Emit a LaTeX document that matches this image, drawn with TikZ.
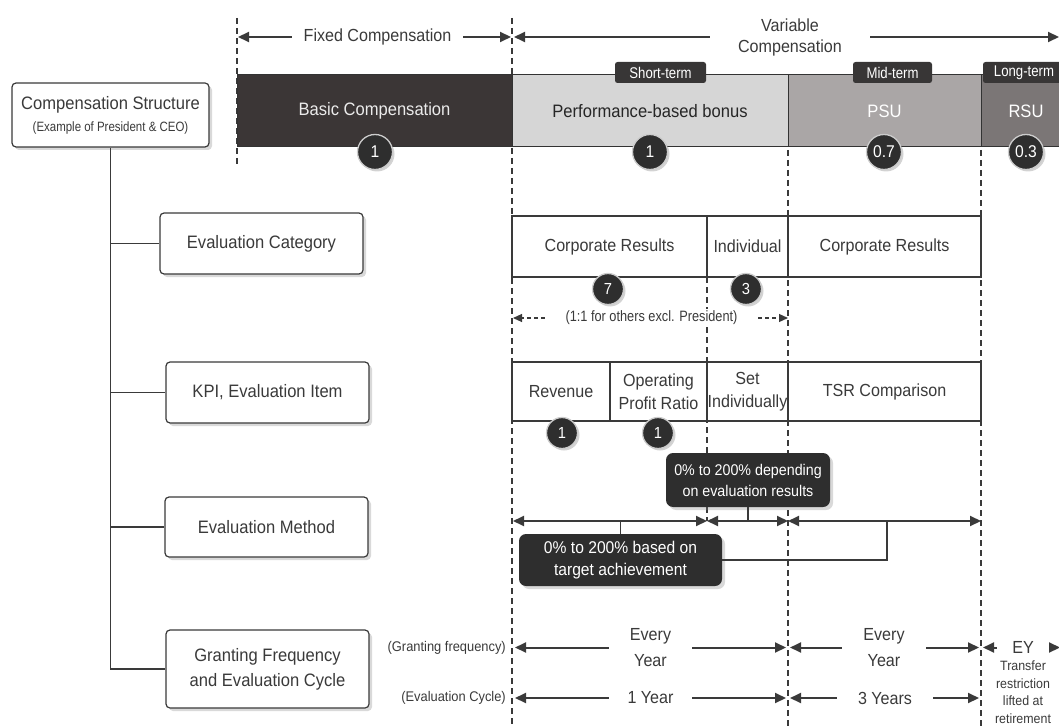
\documentclass[tikz,border=0pt]{standalone}
\usepackage{fontspec}
\setmainfont{Liberation Sans}[FakeStretch=0.92]
\newfontfamily\condf{Liberation Sans}[FakeStretch=0.85]
\usetikzlibrary{arrows.meta,shadows,calc}
\definecolor{ink}{HTML}{3A3A3A}
\definecolor{basicc}{HTML}{3B3636}
\definecolor{perfc}{HTML}{D6D6D6}
\definecolor{psuc}{HTML}{AAA6A6}
\definecolor{rsuc}{HTML}{7B7676}
\definecolor{tagc}{HTML}{383636}
\definecolor{badgec}{HTML}{2E2E2E}
\newcommand\myfs[2]{\fontsize{#1}{#2}\selectfont}
\begin{document}
\begin{tikzpicture}[x=1pt,y=-1pt,
  every node/.style={text=ink},
  vdash/.style={draw=ink, line width=1.4pt, dash pattern=on 6pt off 4pt},
  bar/.style={draw=black!80, line width=1pt, anchor=north west, inner sep=0pt, outer sep=0pt, minimum height=72pt, font=\myfs{18}{22}},
  tag/.style={fill=tagc, rounded corners=2.5pt, text=white, inner sep=0pt, minimum height=21pt, font=\condf\myfs{15.5}{18}},
  badge/.style={circle, fill=badgec, draw=white!80!black, line width=1.3pt, text=white, minimum size=31pt, inner sep=0pt, font=\myfs{16}{18}, drop shadow={opacity=0.35, shadow xshift=2pt, shadow yshift=-2pt}},
  bigbadge/.style={badge, minimum size=35pt, font=\myfs{17}{18}},
  lbox/.style={draw=ink, line width=1.2pt, fill=white, rounded corners=4pt, align=center, inner sep=0pt, font=\myfs{18}{25}, drop shadow={opacity=0.3, shadow xshift=3pt, shadow yshift=-3pt}},
  cell/.style={draw=ink, line width=1.2pt, fill=white, anchor=north west, inner sep=0pt, outer sep=0pt, align=center, font=\myfs{17.5}{23}},
  callout/.style={fill=badgec, rounded corners=7pt, text=white, align=center, inner sep=0pt, drop shadow={opacity=0.3, shadow xshift=3pt, shadow yshift=-3pt}},
  tipa/.style={line width=2pt, draw=ink, -{Triangle[length=11pt,width=10pt]}},
  dbl/.style={line width=2pt, draw=ink, {Triangle[length=11pt,width=10pt]}-{Triangle[length=11pt,width=10pt]}},
  dimtxt/.style={inner sep=0pt, align=center, font=\myfs{17.5}{26}},
  tree/.style={draw=ink, line width=1.3pt}
]
\useasboundingbox (0,0) rectangle (1059,727);
\clip (0,0) rectangle (1059,727);

% dashed guide lines
\coordinate (a1) at (237,18);  \coordinate (a2) at (237,165);
\coordinate (b1) at (512,18);  \coordinate (b2) at (512,727);
\coordinate (c1) at (788,150); \coordinate (c2) at (788,727);
\coordinate (e1) at (981,150); \coordinate (e2) at (981,727);
\coordinate (f1) at (707,277); \coordinate (f2) at (707,521);
\draw[vdash] (a1) -- (a2);
\draw[vdash] (b1) -- (b2);
\draw[vdash] (c1) -- (c2);
\draw[vdash] (e1) -- (e2);
\draw[vdash] (f1) -- (f2);

% top dimension arrows
\node[dimtxt, minimum width=171pt, font=\myfs{17.5}{22}] (fixed) at (377.5,37) {Fixed Compensation};
\coordinate (fxl) at (238,37); \coordinate (fxr) at (511,37);
\draw[tipa] (fixed) -- (fxl);
\draw[tipa] (fixed) -- (fxr);
\node[dimtxt, minimum width=160pt, font=\myfs{17.5}{21}] (var) at (790,37) {Variable\\Compensation};
\coordinate (vl) at (514,37); \coordinate (vr) at (1059,37);
\draw[tipa] (var) -- (vl);
\draw[tipa] (var) -- (vr);

% bars
\node[bar, fill=basicc, minimum width=275pt, text=white!92!black] (basic) at (237,75) {Basic Compensation};
\node[bar, fill=perfc, minimum width=276pt, text=black!85] (perf) at (512,75) {Performance-based bonus};
\node[bar, fill=psuc, minimum width=193pt, text=white] (psu) at (788,75) {PSU};
\node[bar, fill=rsuc, minimum width=90pt, text=white] (rsu) at (981,75) {RSU};

% tags
\node[tag, minimum width=91pt] (st) at (660.5,72.5) {Short-term};
\node[tag, minimum width=79pt] (mt) at (892.5,72.5) {Mid-term};
\node[tag, minimum width=82pt] (lt) at (1024,72.5) {Long-term};

% left tree
\node[lbox, minimum width=197pt, minimum height=64pt] (cs) at (110.5,115) {Compensation Structure\\[-3pt]{\condf\myfs{13.5}{16}(Example of President \& CEO)}};
\node[lbox, minimum width=203pt, minimum height=61pt] (ec) at (261.5,243.5) {Evaluation Category};
\node[lbox, minimum width=203pt, minimum height=61pt] (kpi) at (267.5,392.5) {KPI, Evaluation Item};
\node[lbox, minimum width=203pt, minimum height=60pt] (em) at (266.5,527) {Evaluation Method};
\node[lbox, minimum width=203pt, minimum height=78pt] (gf) at (267.5,669) {Granting Frequency\\and Evaluation Cycle};
\draw[tree] (cs.south) -- (cs.south |- gf.west) -- (gf.west);
\draw[tree] (cs.south |- ec.west) -- (ec.west);
\draw[tree] (cs.south |- kpi.west) -- (kpi.west);
\draw[tree] (cs.south |- em.west) -- (em.west);

% evaluation category row
\node[cell, minimum width=195pt, minimum height=61pt] (cr1) at (512,216) {Corporate Results};
\node[cell, minimum width=81pt, minimum height=61pt] (ind) at (707,216) {Individual};
\node[cell, minimum width=193pt, minimum height=61pt] (cr2) at (788,216) {Corporate Results};

% dashed note
\node[inner sep=0pt, fill=white, minimum width=213pt, minimum height=18pt, font=\condf\myfs{15}{18}] (note) at (651.5,318) {(1:1 for others excl. President)};
\coordinate (nl) at (513,318); \coordinate (nr) at (788,318);
\draw[line width=1.2pt, draw=ink, dash pattern=on 4pt off 3pt, -{Triangle[length=9pt,width=8pt]}] (note) -- (nl);
\draw[line width=1.2pt, draw=ink, dash pattern=on 4pt off 3pt, -{Triangle[length=9pt,width=8pt]}] (note) -- (nr);

% KPI row
\node[cell, minimum width=98pt, minimum height=59pt] (rev) at (512,362) {Revenue};
\node[cell, minimum width=97pt, minimum height=59pt] (opr) at (610,362) {Operating\\Profit Ratio};
\node[cell, minimum width=81pt, minimum height=59pt] (seti) at (707,362) {Set\\Individually};
\node[cell, minimum width=193pt, minimum height=59pt] (tsr) at (788,362) {TSR Comparison};

% evaluation method
\coordinate (m1) at (513,521); \coordinate (m2) at (707,521);
\coordinate (m3) at (788,521); \coordinate (m4) at (981,521);
\draw[dbl] (m1) -- (m2);
\draw[dbl] (m2) -- (m3);
\draw[dbl] (m3) -- (m4);
\node[callout, minimum width=164pt, minimum height=54pt, font=\myfs{15.5}{21}] (cb1) at (748,480) {0\% to 200\% depending\\on evaluation results};
\node[callout, minimum width=203pt, minimum height=52pt, font=\myfs{17}{22}] (cb2) at (620.5,560) {0\% to 200\% based on\\target achievement};
\coordinate (jn) at (887,521);
\draw[tree] (cb1.south) -- (cb1.south |- m2);
\draw[tree] (cb2.north) -- (cb2.north |- m1);
\draw[tree] (cb2.east) -| (jn);

% granting frequency / evaluation cycle
\node[inner sep=0pt, anchor=east, font=\myfs{14}{17}] (gfl) at (506,648) {(Granting frequency)};
\node[inner sep=0pt, anchor=east, font=\myfs{14}{17}] (ecl) at (506,698) {(Evaluation Cycle)};

\node[dimtxt, minimum width=83pt] (ey1) at (650.5,647.5) {Every\\Year};
\coordinate (g1l) at (515,647.5); \coordinate (g1r) at (786,647.5);
\draw[tipa] (ey1) -- (g1l); \draw[tipa] (ey1) -- (g1r);
\node[dimtxt, minimum width=84pt] (ey2) at (884,647.5) {Every\\Year};
\coordinate (g2l) at (790,647.5); \coordinate (g2r) at (979,647.5);
\draw[tipa] (ey2) -- (g2l); \draw[tipa] (ey2) -- (g2r);
\node[dimtxt, minimum width=52pt] (ey3) at (1023,647.5) {EY};
\coordinate (g3l) at (983,647.5); \coordinate (g3r) at (1060,647.5);
\draw[tipa] (ey3) -- (g3l); \draw[tipa] (ey3) -- (g3r);
\node[inner sep=0pt, align=center, anchor=north, font=\myfs{13.5}{17.5}] (tr) at (1023,661) {Transfer\\restriction\\lifted at\\retirement};

\node[dimtxt, minimum width=83pt] (oy) at (650.5,698) {1 Year};
\coordinate (h1l) at (515,698); \coordinate (h1r) at (786,698);
\draw[tipa] (oy) -- (h1l); \draw[tipa] (oy) -- (h1r);
\node[dimtxt, minimum width=96pt] (ty) at (885,698) {3 Years};
\coordinate (h2l) at (790,698); \coordinate (h2r) at (979,698);
\draw[tipa] (ty) -- (h2l); \draw[tipa] (ty) -- (h2r);

% badges
\node[bigbadge] (bg1) at (375,152) {1};
\node[bigbadge] (bg2) at (650,152) {1};
\node[bigbadge] (bg3) at (884,152) {0.7};
\node[bigbadge] (bg4) at (1026,152) {0.3};
\node[badge] (bg5) at (608,289) {7};
\node[badge] (bg6) at (746,289) {3};
\node[badge] (bg7) at (562,433) {1};
\node[badge] (bg8) at (658,433) {1};
\end{tikzpicture}
\end{document}
